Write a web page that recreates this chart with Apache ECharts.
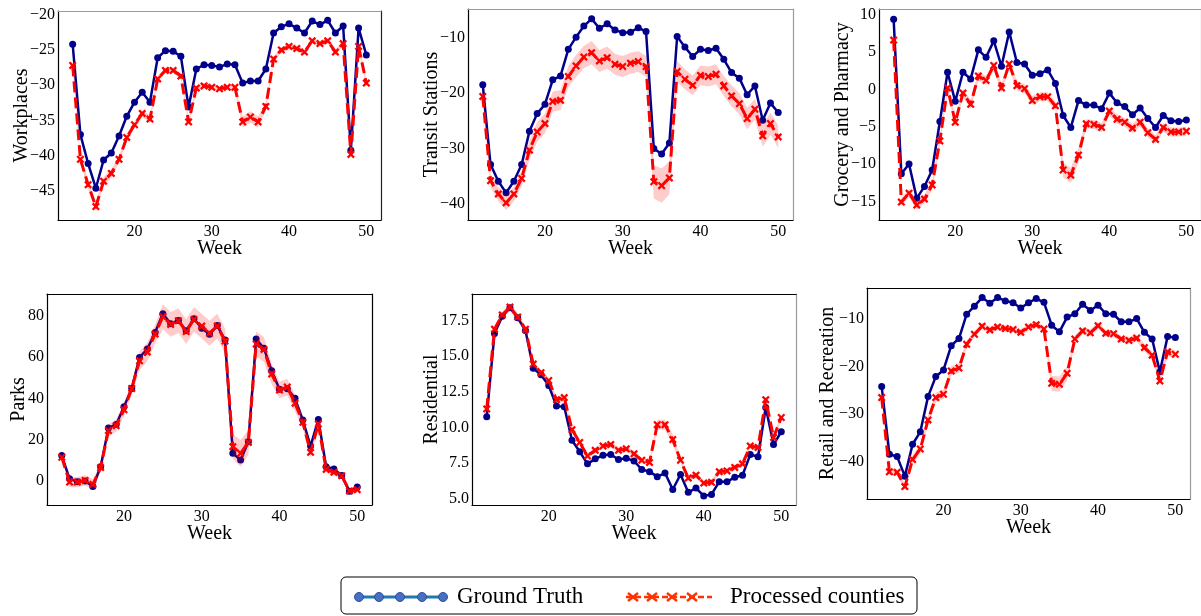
<!DOCTYPE html>
<html>
<head>
<meta charset="utf-8">
<script src="https://cdn.jsdelivr.net/npm/echarts@6/dist/echarts.min.js"></script>
<style>
  html, body { margin: 0; padding: 0; background: #fff; }
  #main { width: 1201px; height: 616px; }
</style>
</head>
<body>
<div id="main"></div>
<script>
// weeks 12..50
const weeks = [12,13,14,15,16,17,18,19,20,21,22,23,24,25,26,27,28,29,30,31,32,33,34,35,36,37,38,39,40,41,42,43,44,45,46,47,48,49,50]

// Workplaces
const workGT = [-24.2,-37.0,-41.1,-44.6,-40.6,-39.6,-37.2,-34.4,-32.4,-31.0,-32.4,-26.1,-25.1,-25.2,-25.9,-33.1,-27.7,-27.1,-27.2,-27.4,-27.0,-27.1,-29.7,-29.4,-29.4,-27.7,-22.6,-21.7,-21.3,-21.9,-22.6,-20.9,-21.4,-20.8,-22.6,-21.6,-39.2,-21.9,-25.7]
const workPC = [-27.2,-40.5,-44.1,-47.2,-43.6,-42.5,-40.5,-37.4,-35.6,-34.0,-34.8,-29.1,-27.9,-27.9,-28.7,-35.2,-30.4,-30.1,-30.3,-30.5,-30.3,-30.3,-35.2,-34.5,-35.2,-33.0,-26.3,-25.0,-24.5,-24.8,-25.3,-23.7,-24.1,-23.7,-25.3,-24.1,-39.8,-24.5,-29.7]
const workBand = [0.5,0.6,0.6,0.6,0.6,0.6,0.5,0.5,0.5,0.5,0.5,0.4,0.4,0.4,0.4,0.5,0.4,0.4,0.4,0.4,0.4,0.4,0.8,0.8,0.8,0.6,0.4,0.4,0.4,0.4,0.4,0.4,0.4,0.4,0.4,0.4,0.6,0.5,0.5]

// Transit Stations
const transitGT = [-18.5,-32.9,-35.9,-38.0,-35.9,-32.9,-26.9,-23.7,-22.0,-17.6,-16.9,-12.1,-9.9,-7.9,-6.6,-8.3,-7.5,-8.6,-9.1,-9.0,-8.2,-8.9,-30.0,-31.0,-29.0,-9.8,-11.7,-13.4,-12.1,-12.3,-11.9,-13.9,-16.3,-17.3,-20.3,-18.7,-24.9,-21.8,-23.5]
const transitPC = [-20.6,-35.8,-38.2,-39.8,-38.2,-35.4,-30.3,-27.0,-25.5,-21.5,-21.3,-17.0,-15.1,-13.5,-12.7,-14.2,-13.6,-14.8,-15.2,-14.6,-14.3,-15.2,-36.0,-36.7,-35.3,-16.1,-17.5,-18.6,-16.8,-17.0,-16.6,-18.7,-20.5,-21.9,-24.6,-22.9,-27.7,-25.5,-27.9]
const transitBand = [0.8,1.2,1.3,1.3,1.3,1.4,1.7,1.8,1.8,1.8,1.8,1.9,2.0,2.0,2.1,2.0,2.0,1.9,1.9,1.9,1.9,1.9,3.0,3.1,3.0,1.9,1.8,1.8,1.8,1.8,1.8,1.8,1.9,1.9,1.9,1.9,2.0,2.0,2.0]

// Grocery and Pharmacy
const groceryGT = [9.4,-11.3,-10.0,-14.6,-13.0,-10.8,-4.3,2.3,-1.6,2.3,1.4,5.3,4.3,6.5,3.1,7.7,3.6,3.4,1.9,2.1,2.6,0.8,-3.5,-5.1,-1.5,-2.1,-2.1,-2.6,-0.5,-1.8,-2.3,-3.4,-2.5,-3.9,-5.1,-3.5,-4.2,-4.3,-4.1]
const groceryPC = [6.6,-15.1,-13.9,-15.5,-14.7,-12.8,-6.9,0.2,-4.4,-0.5,-2.0,1.8,1.2,3.2,0.2,3.4,0.5,0.1,-1.5,-1.0,-1.0,-2.2,-10.8,-11.5,-8.8,-4.6,-4.7,-5.1,-2.9,-4.0,-4.4,-5.2,-4.4,-5.8,-6.7,-5.1,-5.7,-5.7,-5.6]
const groceryBand = [0.3,0.5,0.6,0.6,0.6,0.6,0.6,0.6,0.6,0.6,0.6,0.6,0.6,0.6,0.6,0.6,0.6,0.6,0.6,0.6,0.6,0.6,1.0,1.0,1.0,0.6,0.6,0.6,0.6,0.6,0.6,0.6,0.6,0.6,0.6,0.6,0.6,0.6,0.6]

// Parks
const parksGT = [12.3,1.1,-0.3,0.0,-2.7,6.9,25.6,27.4,36.0,44.8,59.8,63.9,71.9,81.0,76.1,77.7,72.7,78.5,73.9,71.0,75.2,68.2,13.4,10.2,19.0,68.7,64.2,53.4,44.4,44.7,40.0,29.5,16.9,29.8,6.9,5.8,2.7,-5.0,-2.9]
const parksPC = [11.5,-0.5,-0.5,0.3,-1.6,6.5,24.4,26.8,34.5,44.8,58.2,62.4,71.1,79.5,75.8,77.6,72.3,78.2,75.0,71.5,75.0,67.7,16.6,13.4,18.7,66.3,63.7,51.8,44.0,45.5,37.6,28.4,13.9,27.6,5.6,4.2,2.6,-4.8,-4.2]
const parksBand = [1.0,2.5,2.5,2.5,2.5,2.0,3.0,3.0,3.0,3.0,4.5,4.5,4.5,6.0,6.0,6.0,6.0,6.0,6.0,6.0,6.0,6.0,6.0,6.5,6.0,6.0,6.0,5.0,4.0,4.0,4.0,3.0,2.5,2.5,1.5,1.5,1.5,1.5,1.5]

// Residential
const residGT = [10.76,16.6,17.8,18.4,17.7,16.8,14.15,13.7,12.95,11.5,11.45,9.1,8.3,7.45,7.8,8.05,8.1,7.75,7.85,7.65,7.05,6.9,6.55,6.8,5.65,6.7,5.45,5.75,5.2,5.3,6.2,6.2,6.5,6.65,8.1,7.95,11.4,8.8,9.7]
const residPC = [11.3,16.9,17.9,18.45,17.75,16.9,14.45,13.85,13.3,11.95,12.1,9.85,8.95,8.0,8.4,8.7,8.8,8.4,8.5,8.15,7.7,7.55,10.2,10.2,9.15,7.7,6.45,6.65,6.1,6.15,6.9,6.95,7.2,7.45,8.7,8.6,11.95,9.3,10.7]
const residBand = [0.2,0.25,0.25,0.25,0.25,0.25,0.2,0.2,0.2,0.2,0.2,0.2,0.2,0.2,0.2,0.2,0.2,0.2,0.2,0.2,0.2,0.2,0.35,0.35,0.35,0.2,0.2,0.2,0.2,0.2,0.2,0.2,0.2,0.2,0.2,0.2,0.2,0.2,0.2]

// Retail and Recreation
const retailGT = [-24.2,-38.4,-38.9,-43.0,-36.3,-33.7,-26.3,-22.1,-20.7,-15.6,-14.1,-9.0,-7.3,-5.5,-6.7,-5.5,-6.2,-6.6,-7.7,-6.6,-5.7,-6.5,-11.3,-12.7,-9.6,-8.9,-6.9,-8.2,-7.1,-8.9,-9.0,-10.6,-10.6,-9.9,-12.8,-14.2,-21.1,-13.7,-13.9]
const retailPC = [-26.5,-42.1,-42.2,-45.2,-39.5,-37.3,-31.2,-26.5,-25.8,-20.9,-20.3,-15.3,-13.2,-11.5,-12.3,-11.7,-12.0,-12.2,-12.8,-11.7,-11.2,-12.1,-23.5,-23.7,-21.4,-14.2,-12.5,-12.9,-11.4,-13.0,-13.1,-14.2,-14.5,-14.0,-16.0,-17.6,-23.0,-16.9,-17.4]
const retailBand = [0.5,0.6,0.6,0.6,0.9,1.0,1.0,1.0,1.0,1.0,1.0,0.8,0.7,0.7,0.7,0.7,0.7,0.7,0.7,0.7,0.7,0.7,1.6,1.6,1.5,0.8,0.7,0.7,0.7,0.7,0.7,0.7,0.7,0.7,0.8,0.8,0.8,0.8,0.8]

// tick labels
const weekTicks = [20, 30, 40, 50]
const workTicks = [-45, -40, -35, -30, -25, -20]
const transitTicks = [-40, -30, -20, -10]
const groceryTicks = [-15, -10, -5, 0, 5, 10]
const parksTicks = [0, 20, 40, 60, 80]
const residTicks = [5, 7.5, 10, 12.5, 15, 17.5]
const retailTicks = [-40, -30, -20, -10]

const FONT = 'Liberation Serif, Times New Roman, serif'

const panels = [
  { name: 'Workplaces', gt: workGT, pc: workPC, band: workBand, ticks: workTicks,
    grid: { left: 58, top: 11, width: 323, height: 209 }, min: -49.1, max: -19.48, gap: 26, dec: 0, topC: '#999', rightC: '#222' },
  { name: 'Transit Stations', gt: transitGT, pc: transitPC, band: transitBand, ticks: transitTicks,
    grid: { left: 468, top: 9, width: 325, height: 211 }, min: -42.9, max: -4.82, gap: 26, dec: 0, topC: '#999', rightC: '#999' },
  { name: 'Grocery and Pharmacy', gt: groceryGT, pc: groceryPC, band: groceryBand, ticks: groceryTicks,
    grid: { left: 879, top: 9, width: 325, height: 211 }, min: -17.5, max: 10.77, gap: 26, dec: 0, topC: '#999', rightC: '#999' },
  { name: 'Parks', gt: parksGT, pc: parksPC, band: parksBand, ticks: parksTicks,
    grid: { left: 47, top: 294, width: 325, height: 211 }, min: -11.6, max: 90.5, gap: 18, dec: 0, topC: '#000', rightC: '#000' },
  { name: 'Residential', gt: residGT, pc: residPC, band: residBand, ticks: residTicks,
    grid: { left: 472, top: 294, width: 324, height: 211 }, min: 4.56, max: 19.37, gap: 30, dec: 1, topC: '#000', rightC: '#999' },
  { name: 'Retail and Recreation', gt: retailGT, pc: retailPC, band: retailBand, ticks: retailTicks,
    grid: { left: 867, top: 288, width: 323, height: 211 }, min: -47.8, max: -3.49, gap: 29, dec: 0, topC: '#000', rightC: '#999' }
]

const xMark = 'path://M2,0 L5,3 L8,0 L10,2 L7,5 L10,8 L8,10 L5,7 L2,10 L0,8 L3,5 L0,2 Z'

const fmt = (dec) => (v) => {
  const s = Math.abs(v).toFixed(dec)
  return (v < 0 ? '\u2212' : '') + s
}

const grid = [], xAxis = [], yAxis = [], series = []
panels.forEach((p, i) => {
  grid.push(p.grid)
  // bottom + top x axes
  xAxis.push({
    type: 'value', gridIndex: i, min: 10.1, max: 51.9,
    name: 'Week', nameLocation: 'middle', nameGap: 19, nameMoveOverlap: false,
    nameTextStyle: { fontFamily: FONT, fontSize: 20, color: '#000' },
    axisLine: { onZero: false, lineStyle: { color: '#000', width: 1.2 } },
    axisTick: { show: false },
    splitLine: { show: false },
    axisLabel: { customValues: weekTicks, margin: 4, fontFamily: FONT, fontSize: 16, color: '#000' }
  })
  xAxis.push({
    type: 'value', gridIndex: i, min: 10.1, max: 51.9, position: 'top',
    axisLine: { show: true, onZero: false, lineStyle: { color: p.topC, width: 1.2 } },
    axisTick: { show: false }, splitLine: { show: false }, axisLabel: { show: false }
  })
  yAxis.push({
    type: 'value', gridIndex: i, min: p.min, max: p.max,
    name: p.name, nameLocation: 'middle', nameGap: p.gap, nameMoveOverlap: false,
    nameTextStyle: { fontFamily: FONT, fontSize: 20, color: '#000' },
    axisLine: { show: true, onZero: false, lineStyle: { color: '#000', width: 1.2 } },
    axisTick: { show: false },
    splitLine: { show: false },
    axisLabel: { customValues: p.ticks, margin: 3, fontFamily: FONT, fontSize: 16, color: '#000', formatter: fmt(p.dec) }
  })
  yAxis.push({
    type: 'value', gridIndex: i, min: p.min, max: p.max, position: 'right',
    axisLine: { show: true, onZero: false, lineStyle: { color: p.rightC, width: 1.2 } },
    axisTick: { show: false }, splitLine: { show: false }, axisLabel: { show: false }
  })

  const upper = weeks.map((w, k) => [w, p.pc[k] + p.band[k]])
  const lower = weeks.map((w, k) => [w, p.pc[k] - p.band[k]])

  series.push({
    type: 'line', xAxisIndex: i * 2, yAxisIndex: i * 2, z: 2,
    data: weeks.map((w, k) => [w, p.gt[k]]),
    symbol: 'circle', symbolSize: 7,
    itemStyle: { color: '#00008b' },
    lineStyle: { color: '#00008b', width: 2.5 }
  })
  // confidence band as one polygon
  series.push({
    type: 'custom', xAxisIndex: i * 2, yAxisIndex: i * 2, z: 3, silent: true,
    data: upper,
    encode: { x: 0, y: 1 },
    renderItem: (params, api) => {
      if (params.dataIndex !== 0) return
      const pts = upper.map(d => api.coord(d)).concat(lower.slice().reverse().map(d => api.coord(d)))
      return { type: 'polygon', shape: { points: pts }, style: { fill: 'rgba(255,0,0,0.2)' } }
    }
  })
  series.push({
    type: 'line', xAxisIndex: i * 2, yAxisIndex: i * 2, z: 4,
    data: weeks.map((w, k) => [w, p.pc[k]]),
    symbol: xMark, symbolSize: 8,
    itemStyle: { color: '#ff0000' },
    lineStyle: { color: '#ff0000', width: 3, type: [11, 5] }
  })
})

// legend drawn as graphic (matplotlib style line with markers)
const legendY = 597
const gtMarkX = [359, 379, 400, 422, 443]
const pcMarkX = [633, 652, 672, 692]
const crossLines = []
pcMarkX.forEach(x => {
  crossLines.push({ type: 'line', shape: { x1: x - 5, y1: legendY - 4, x2: x + 5, y2: legendY + 4 }, style: { stroke: '#ff3300', lineWidth: 2.5 } })
  crossLines.push({ type: 'line', shape: { x1: x - 5, y1: legendY + 4, x2: x + 5, y2: legendY - 4 }, style: { stroke: '#ff3300', lineWidth: 2.5 } })
})
const legend = [
  { type: 'rect', shape: { x: 341, y: 577, width: 576, height: 37, r: 5 }, style: { fill: '#fff', stroke: '#000', lineWidth: 1 } },
  { type: 'line', shape: { x1: 355, y1: legendY, x2: 446, y2: legendY }, style: { stroke: '#1f77b4', lineWidth: 3 } },
  ...gtMarkX.map(x => ({ type: 'circle', shape: { cx: x, cy: legendY, r: 4.5 }, style: { fill: '#4a6fc0', stroke: '#2c4f9e', lineWidth: 1 } })),
  { type: 'text', style: { x: 457, y: legendY, text: 'Ground Truth', fontFamily: FONT, fontSize: 23, fill: '#000', verticalAlign: 'middle' } },
  { type: 'line', shape: { x1: 626, y1: legendY, x2: 712, y2: legendY }, style: { stroke: '#ff3300', lineWidth: 2.5, lineDash: [6, 3] } },
  ...crossLines,
  { type: 'text', style: { x: 730, y: legendY, text: 'Processed counties', fontFamily: FONT, fontSize: 23, fill: '#000', verticalAlign: 'middle' } }
]

const chart = echarts.init(document.getElementById('main'), null, { renderer: 'canvas' })
chart.setOption({
  animation: false,
  backgroundColor: '#fff',
  grid: grid,
  xAxis: xAxis,
  yAxis: yAxis,
  series: series,
  graphic: legend
})
</script>
</body>
</html>
